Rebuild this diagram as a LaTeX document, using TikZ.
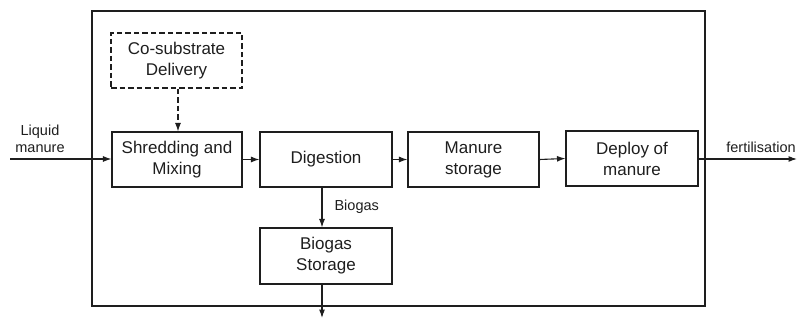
\documentclass[tikz,border=0pt]{standalone}
\usepackage{fontspec}
\setmainfont{Liberation Sans}
\usetikzlibrary{arrows.meta}
\definecolor{ink}{HTML}{1e1e1e}
\begin{document}
\begin{tikzpicture}[x=1pt,y=1pt,
  line width=1.1pt, draw=ink, text=ink,
  blk/.style={draw=ink, line width=1.1pt, align=center, inner sep=0pt,
    font=\fontsize{17}{21}\selectfont},
  lbl/.style={align=center, inner sep=0pt, font=\fontsize{14.5}{16.5}\selectfont},
  arr/.style={-{Latex[length=8.5pt,width=6pt]}, draw=ink, line width=1.1pt}]
\useasboundingbox (0,0) rectangle (800,-320);
\draw[ink] (92,-11) rectangle (705,-306);
\node[blk, dashed, line width=1.4pt, dash pattern=on 5.5pt off 3pt, minimum width=131pt, minimum height=55pt] (co) at (176.5,-60.5) {Co-substrate\\Delivery};
\node[blk, minimum width=130pt, minimum height=55pt] (sh) at (177,-159.5) {Shredding and\\Mixing};
\node[blk, minimum width=132pt, minimum height=55pt] (dg) at (326,-159.5) {Digestion};
\node[blk, minimum width=131pt, minimum height=55pt] (ms) at (473.5,-159.5) {Manure\\storage};
\node[blk, minimum width=132pt, minimum height=55pt] (dp) at (632,-158.5) {Deploy of\\manure};
\node[blk, minimum width=132pt, minimum height=56pt] (bs) at (326,-256) {Biogas\\Storage};
\coordinate (lin) at (10,-159);
\coordinate (fout) at (797,-159);
\coordinate (gout) at (322,-318);
\node[lbl] (liq) at (40,-139) {Liquid\\manure};
\node[lbl, anchor=west] (bg) at (334,-207) {Biogas};
\node[lbl] (fert) at (761,-147) {fertilisation};
\draw[arr] (lin) -- (lin -| sh.west);
\draw[arr] (sh.east) -- (dg.west);
\draw[arr] (dg.east) -- (ms.west);
\draw[arr] (ms.east) -- (dp.west);
\draw[arr] (dp.east |- fout) -- (fout);
\draw[arr, dash pattern=on 5.5pt off 3pt] ([xshift=1.5pt]co.south) -- ([xshift=1pt]sh.north);
\draw[arr] ([xshift=-4pt]dg.south) -- ([xshift=-4pt]bs.north);
\draw[arr] ([xshift=-4pt]bs.south) -- (gout);
\end{tikzpicture}
\end{document}
